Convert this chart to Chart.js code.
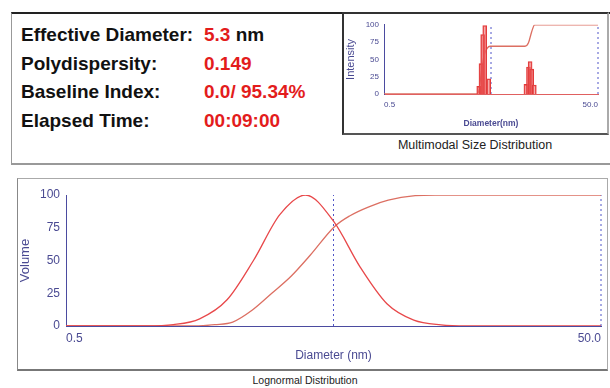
<!DOCTYPE html>
<html lang="en">
<head>
<meta charset="UTF-8">
<title>Lognormal Distribution</title>
<script src="https://cdn.jsdelivr.net/npm/chart.js"></script>
<style>
    body {
        margin: 0;
        width: 610px;
        height: 388px;
        background: #fff;
        font-family: Arial, "Liberation Sans", sans-serif;
        position: relative;
        overflow: hidden;
    }
    .box { position: absolute; box-sizing: border-box; }
    #topFrame {
        left: 11px; top: 12px; width: 620px; height: 153px;
        border-top: 2px solid #222; border-left: 1px solid #999; border-bottom: 2px solid #999;
    }
    #sizeBox {
        left: 342px; top: 12px; width: 267px; height: 123px;
        border: 2px solid #333; border-right-color: #aaa; border-bottom-color: #555;
    }
    #logFrame {
        left: 17px; top: 178px; width: 591px; height: 193px;
        border: 1px solid #aaa; border-bottom: 2px solid #777; border-left-color: #888;
    }
    .stat { position: absolute; font-weight: bold; font-size: 19px; color: #111; white-space: nowrap; }
    .stat .val { position: absolute; left: 183px; color: #e31c1c; }
    .stat .unit { color: #111; }
    .caption { position: absolute; color: #222; white-space: nowrap; text-align: center; }
    .chartBox { position: absolute; }
</style>
</head>
<body>
    <div id="topFrame" class="box"></div>
    <div id="sizeBox" class="box"></div>
    <div id="logFrame" class="box"></div>
    <div id="stats"></div>
    <div class="caption" style="left:375px; top:138px; width:200px; font-size:12.5px;">Multimodal Size Distribution</div>
    <div class="caption" style="left:205px; top:374px; width:200px; font-size:10.5px;">Lognormal Distribution</div>

    <div class="chartBox" style="left:344px; top:15px; width:262px; height:118px;">
        <canvas id="sizeChart"></canvas>
    </div>
    <div class="chartBox" style="left:18px; top:180px; width:588px; height:189px;">
        <canvas id="logChart"></canvas>
    </div>

<script>
    const statLabels = ['Effective Diameter:', 'Polydispersity:', 'Baseline Index:', 'Elapsed Time:'];
    const statValues = ['5.3', '0.149', '0.0/ 95.34%', '00:09:00'];
    const statUnits = [' nm', '', '', ''];

    const xTicks = [0.5, 50];
    const cursorDiameter = 5.0;

    // multimodal size distribution (histogram + cumulative)
    const binDiameters = [3.84, 4.03, 4.18, 4.37, 4.76, 10.6, 11.2, 11.6, 12.0, 12.7];
    const binIntensity = [11, 44, 86, 99, 22, 14, 39, 47, 36, 13];
    const cumIntDiameters = [0.5, 3.75, 3.9, 4.1, 4.3, 4.6, 4.9, 10.4, 11.2, 12.0, 12.8, 50];
    const cumIntensity = [0, 0, 10, 35, 55, 66, 69, 69, 74, 90, 100, 100];

    // lognormal distribution (volume + cumulative)
    const volDiameters = [0.5, 1.0, 1.26, 1.58, 2.0, 2.51, 3.15, 3.93, 5.0, 6.29, 7.92, 9.98, 12.6, 15.8, 50];
    const volume = [0, 0, 1, 5.5, 20, 50, 85, 100, 80, 45, 17, 4.5, 0.8, 0, 0];
    const cumVolDiameters = [0.5, 1.5, 1.8, 2.1, 2.48, 2.94, 3.47, 4.09, 5.05, 5.74, 6.78, 8.01, 10.1, 12, 50];
    const cumVolume = [0, 0, 1, 3, 12, 25, 38, 54, 76, 84, 91, 96, 99.5, 100, 100];

    const axisBlue = '#4b4ba0';
    const dotBlue = '#4f55c8';
    const textBlue = '#4a4a92';
    const red = '#e8484a';
    const redCum = '#dc6f62';

    // stats text block
    const stats = document.getElementById('stats');
    statLabels.forEach((label, i) => {
        const row = document.createElement('div');
        row.className = 'stat';
        row.style.left = '21px';
        row.style.top = (24 + i * 28.5) + 'px';
        row.innerHTML = label + '<span class="val">' + statValues[i] + '<span class="unit">' + statUnits[i] + '</span></span>';
        stats.appendChild(row);
    });

    const pts = (xs, ys) => xs.map((x, i) => ({ x: x, y: ys[i] }));
    const vline = x => [{ x: x, y: 0 }, { x: x, y: 100 }];

    function dotted(x) {
        return {
            type: 'line', data: vline(x), borderColor: dotBlue, borderWidth: 1,
            borderDash: [2, 3], pointRadius: 0, clip: false
        };
    }

    function makeScales(o) {
        return {
            x: {
                type: 'logarithmic', min: 0.5, max: 50,
                afterBuildTicks: s => { s.ticks = xTicks.map(v => ({ value: v })); },
                afterFit: s => { s.height = o.xHeight; },
                grid: { display: false, drawTicks: false },
                border: { display: true, color: o.xBorder, width: 1 },
                ticks: {
                    align: 'inner', maxRotation: 0, autoSkip: false, padding: o.tickPad,
                    color: textBlue, font: { size: o.tickSize, family: 'Arial, "Liberation Sans"' },
                    callback: v => Number(v).toFixed(1)
                },
                title: {
                    display: true, text: o.xTitle, color: textBlue,
                    font: { size: o.xTitleSize, weight: o.xTitleWeight, family: 'Arial, "Liberation Sans"' },
                    padding: { top: 0, bottom: o.xTitlePad }
                }
            },
            y: {
                min: 0, max: 100,
                afterFit: s => { s.width = o.yWidth; },
                grid: { display: false, drawTicks: false },
                border: { display: true, color: axisBlue, width: 1 },
                ticks: {
                    stepSize: 25, padding: o.yTickPad, color: textBlue,
                    font: { size: o.tickSize, family: 'Arial, "Liberation Sans"' }
                },
                title: {
                    display: true, text: o.yTitle, color: textBlue,
                    font: { size: o.yTitleSize, family: 'Arial, "Liberation Sans"' },
                    padding: 0
                }
            }
        };
    }

    const common = {
        responsive: true,
        maintainAspectRatio: false,
        animation: false,
        plugins: { legend: { display: false }, tooltip: { enabled: false } },
        elements: { point: { radius: 0 } }
    };

    new Chart(document.getElementById('sizeChart'), {
        type: 'line',
        data: {
            datasets: [
                {
                    type: 'bar', data: pts(binDiameters, binIntensity), barThickness: 4,
                    backgroundColor: 'rgba(240,110,110,0.55)', borderColor: '#e23a3a', borderWidth: 1
                },
                {
                    data: pts(cumIntDiameters, cumIntensity), borderColor: redCum, borderWidth: 1.3,
                    cubicInterpolationMode: 'monotone', pointRadius: 0
                },
                dotted(cursorDiameter),
                dotted(50)
            ]
        },
        options: Object.assign({}, common, {
            layout: { padding: { top: 4, right: 8, left: 0, bottom: 0 } },
            scales: makeScales({
                xHeight: 39, xBorder: '#e06060', tickPad: 6, tickSize: 8,
                xTitle: 'Diameter(nm)', xTitleSize: 8.5, xTitleWeight: 'bold', xTitlePad: 4,
                yWidth: 40, yTickPad: 5, yTitle: 'Intensity', yTitleSize: 11
            })
        })
    });

    new Chart(document.getElementById('logChart'), {
        type: 'line',
        data: {
            datasets: [
                {
                    data: pts(volDiameters, volume), borderColor: red, borderWidth: 1.3,
                    cubicInterpolationMode: 'monotone', pointRadius: 0
                },
                {
                    data: pts(cumVolDiameters, cumVolume), borderColor: redCum, borderWidth: 1.3,
                    cubicInterpolationMode: 'monotone', pointRadius: 0
                },
                dotted(cursorDiameter),
                dotted(50)
            ]
        },
        options: Object.assign({}, common, {
            layout: { padding: { top: 15, right: 3, left: 0, bottom: 0 } },
            scales: makeScales({
                xHeight: 43, xBorder: axisBlue, tickPad: 5, tickSize: 12,
                xTitle: 'Diameter (nm)', xTitleSize: 12, xTitleWeight: 'normal', xTitlePad: 6,
                yWidth: 48, yTickPad: 6, yTitle: 'Volume', yTitleSize: 13
            })
        })
    });
</script>
</body>
</html>
